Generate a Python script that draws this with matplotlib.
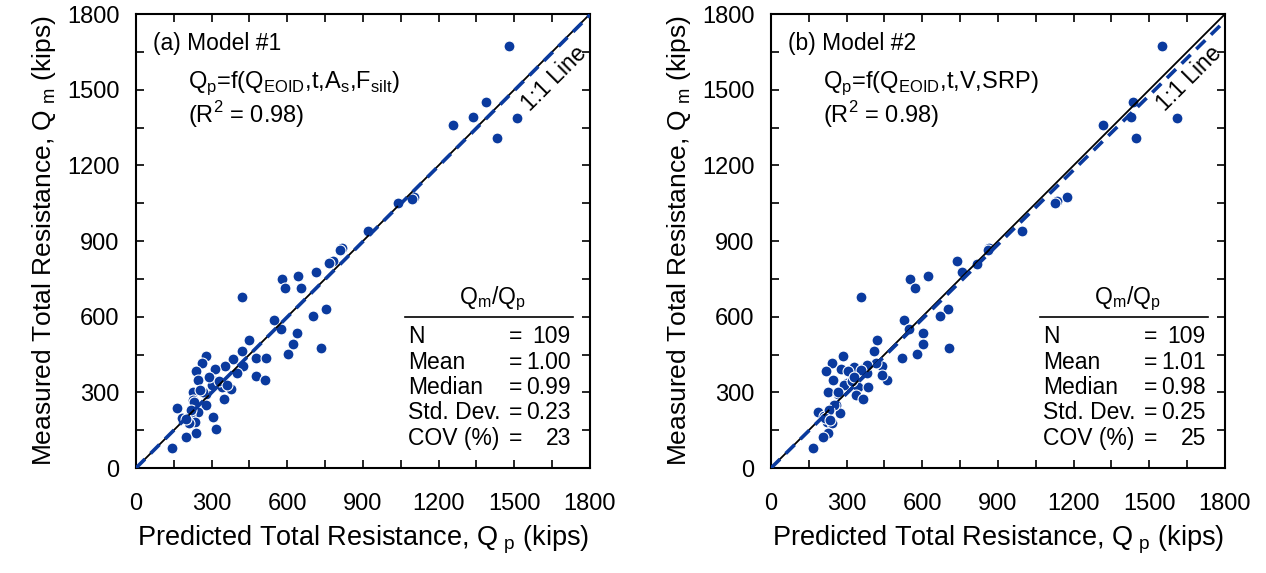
import numpy as np
import matplotlib.pyplot as plt
from matplotlib.ticker import MultipleLocator

plt.rcParams['font.family'] = ['Liberation Sans', 'DejaVu Sans']
plt.rcParams['mathtext.fontset'] = 'custom'
plt.rcParams['mathtext.rm'] = 'Liberation Sans'

# model #1 : predicted vs measured (kips)
qp_a = [1479, 1388, 1337, 1258, 1512, 1431, 1103, 1095, 1037, 921, 817, 810, 782, 765, 714,
        641, 578, 591, 653, 422, 753, 702, 546, 575, 638, 621, 732, 449, 419, 604, 474, 516,
        426, 383, 352, 402, 474, 513, 312, 276, 262, 237, 247, 322, 310, 335, 375, 350, 227,
        279, 226, 276, 161, 247, 181, 214, 234, 212, 307, 317, 238, 200, 143,
        300, 340, 290, 265, 330, 360, 255, 230, 220, 200]
qm_a = [1674, 1452, 1393, 1362, 1388, 1307, 1073, 1065, 1049, 938, 871, 865, 822, 811, 776,
        761, 749, 712, 712, 677, 630, 603, 587, 551, 537, 492, 474, 507, 464, 451, 437, 437,
        406, 431, 406, 378, 365, 348, 391, 445, 415, 386, 349, 336, 345, 330, 312, 274, 303,
        293, 270, 250, 239, 221, 197, 210, 181, 177, 204, 155, 137, 123, 81,
        330, 320, 360, 300, 345, 330, 310, 260, 230, 195]

# model #2
qp_b = [1549, 1436, 1427, 1318, 1608, 1447, 1175, 1135, 1125, 994, 866, 860, 818, 737, 759,
        622, 551, 571, 357, 702, 669, 529, 547, 604, 603, 704, 420, 407, 579, 518, 439, 461,
        373, 382, 415, 439, 330, 285, 241, 218, 277, 307, 244, 300, 346, 386, 336, 366, 227,
        267, 259, 274, 185, 221, 241, 212, 225, 208, 165,
        290, 320, 250, 230, 380, 355, 265, 215, 235, 330]
qm_b = [1674, 1452, 1393, 1362, 1388, 1307, 1073, 1059, 1049, 938, 871, 865, 809, 822, 776,
        761, 749, 712, 677, 630, 603, 587, 551, 537, 492, 474, 507, 464, 451, 437, 406, 348,
        402, 375, 415, 369, 402, 445, 415, 386, 391, 386, 349, 336, 320, 322, 289, 274, 303,
        293, 250, 217, 221, 184, 177, 206, 137, 124, 81,
        330, 345, 250, 230, 410, 390, 300, 200, 190, 360]

panels = [
    dict(qp=qp_a, qm=qm_a, slope=0.998, title='(a) Model #1',
         eq=r'Q$_\mathregular{p}$=f(Q$_\mathregular{EOID}$,t,A$_\mathregular{s}$,F$_\mathregular{silt}$)',
         stats=['109', '1.00', '0.99', '0.23', '23']),
    dict(qp=qp_b, qm=qm_b, slope=0.985, title='(b) Model #2',
         eq=r'Q$_\mathregular{p}$=f(Q$_\mathregular{EOID}$,t,V,SRP)',
         stats=['109', '1.01', '0.98', '0.25', '25']),
]
row_names = ['N', 'Mean', 'Median', 'Std. Dev.', 'COV (%)']

blue = '#0a3a9e'
fs = 16.5

fig = plt.figure(figsize=(12.66, 5.73), dpi=100)
lefts = [0.1074, 0.609]

for i, p in enumerate(panels):
    ax = fig.add_axes([lefts[i], 0.1832, 0.3586, 0.7923])
    ax.scatter(p['qp'], p['qm'], s=62, color=blue, edgecolor='white', linewidth=0.8, zorder=2)
    xx = np.array([0, 1800])
    ax.plot(xx, xx, color='black', lw=1.3, zorder=3)
    ax.plot(xx, p['slope'] * xx, color=blue, lw=2.6, ls=(0, (3.5, 2.2)), zorder=4)

    ax.set_xlim(0, 1800)
    ax.set_ylim(0, 1800)
    ax.xaxis.set_major_locator(MultipleLocator(300))
    ax.yaxis.set_major_locator(MultipleLocator(300))
    ax.xaxis.set_minor_locator(MultipleLocator(150))
    ax.yaxis.set_minor_locator(MultipleLocator(150))
    ax.tick_params(which='both', direction='in', top=True, right=True,
                   length=6, width=1.2, labelsize=17)
    ax.tick_params(axis='x', which='major', pad=18)
    ax.tick_params(axis='y', which='major', pad=12)
    for sp in ax.spines.values():
        sp.set_linewidth(1.5)

    ax.set_xlabel(r'Predicted Total Resistance, Q$_\mathregular{\ p}$ (kips)', fontsize=19.5, labelpad=6)
    ax.set_ylabel(r'Measured Total Resistance, Q$_\mathregular{\ m}$ (kips)', fontsize=19, labelpad=6)

    ax.text(0.037, 0.936, p['title'], transform=ax.transAxes, fontsize=fs, va='center')
    ax.text(0.115, 0.848, p['eq'], transform=ax.transAxes, fontsize=17, va='center')
    ax.text(0.115, 0.778, r'(R$^\mathregular{2}$ = 0.98)', transform=ax.transAxes, fontsize=17, va='center')
    ax.text(0.922, 0.857, '1:1 Line', transform=ax.transAxes, fontsize=fs,
            rotation=45, ha='center', va='center')

    ax.text(0.784, 0.372, r'Q$_\mathregular{m}$/Q$_\mathregular{p}$', transform=ax.transAxes,
            fontsize=fs, ha='center', va='center')
    ax.plot([0.593, 0.962], [0.333, 0.333], color='black', lw=1.2, transform=ax.transAxes)
    ys = [0.289, 0.233, 0.178, 0.123, 0.066]
    for name, val, y in zip(row_names, p['stats'], ys):
        ax.text(0.599, y, name, transform=ax.transAxes, fontsize=fs, va='center')
        ax.text(0.822, y, '=', transform=ax.transAxes, fontsize=fs, va='center')
        ax.text(0.958, y, val, transform=ax.transAxes, fontsize=fs, va='center', ha='right')

fig.savefig('out.png', dpi=100)
